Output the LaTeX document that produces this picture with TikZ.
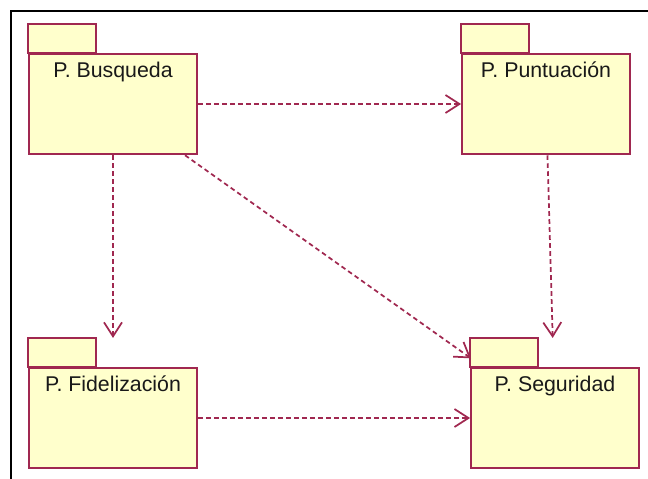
\documentclass[tikz,border=0pt]{standalone}
\usepackage{fontspec}
\setmainfont{Liberation Sans}
\usetikzlibrary{arrows.meta,calc}
\definecolor{pkgred}{RGB}{160,40,80}
\definecolor{pkgfill}{RGB}{255,255,204}
\definecolor{pkgtext}{RGB}{25,25,25}

\begin{document}
\begin{tikzpicture}[x=0.75pt,y=-0.75pt,
        pkg/.style={draw=pkgred,fill=pkgfill,line width=1.4pt,minimum width=126pt,minimum height=75.5pt,inner sep=0pt},
        pkgtab/.style={draw=pkgred,fill=pkgfill,line width=1.4pt},
        pkgname/.style={anchor=north,inner sep=0pt,yshift=-6.5pt,text=pkgtext,font=\fontsize{16}{19}\selectfont},
        dep/.style={draw=pkgred,line width=1.3pt,dash pattern=on 3.5pt off 2.5pt,-{Straight Barb[length=10.5pt,width=13.5pt]}}]
        \useasboundingbox (0,0) rectangle (648,478);
        \draw[line width=1.6pt,black] (11,480)--(11,11)--(650,11);

        \node[pkg,label={[pkgname]north:P. Busqueda}] (busq) at (113,104) {};
        \node[pkg,label={[pkgname]north:P. Puntuación}] (punt) at (546,104) {};
        \node[pkg,label={[pkgname]north:P. Fidelización}] (fidel) at (113,418) {};
        \node[pkg,label={[pkgname]north:P. Seguridad}] (segur) at (555,418) {};
        \foreach \p in {busq,punt,fidel,segur}
            \draw[pkgtab] (\p.north west) rectangle ++(68,-29);

        \coordinate (fideltop) at ($(busq.center)!0.745!(fidel.center)$);
        \coordinate (segurtop) at ($(punt.center)!0.745!(segur.center)$);
        \coordinate (segurin) at ($(busq.center)!0.81!(segur.center)$);

        \draw[dep] (busq)--(punt);
        \draw[dep] (busq)--(fideltop);
        \draw[dep] (busq)--(segurin);
        \draw[dep] (punt)--(segurtop);
        \draw[dep] (fidel)--(segur);
\end{tikzpicture}
\end{document}
